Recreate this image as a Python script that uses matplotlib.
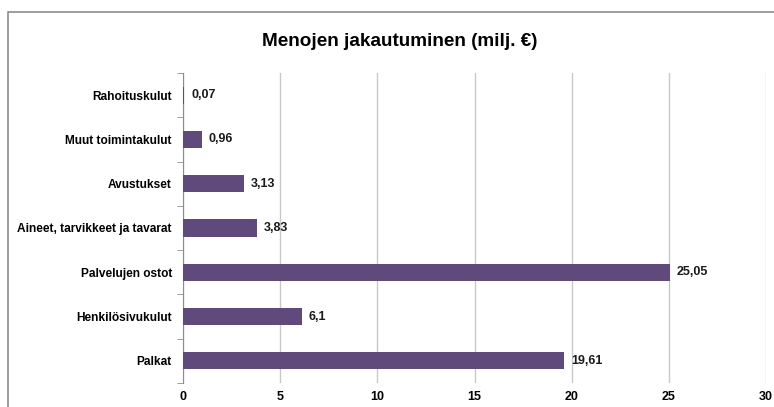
import matplotlib.pyplot as plt
from matplotlib.patches import Rectangle

categories = ['Palkat', 'Henkilösivukulut', 'Palvelujen ostot',
              'Aineet, tarvikkeet ja tavarat', 'Avustukset',
              'Muut toimintakulut', 'Rahoituskulut']
values = [19.61, 6.1, 25.05, 3.83, 3.13, 0.96, 0.07]
labels = ['19,61', '6,1', '25,05', '3,83', '3,13', '0,96', '0,07']
xticks = [0, 5, 10, 15, 20, 25, 30]

plt.rcParams['font.family'] = ['Liberation Sans', 'DejaVu Sans']

fig = plt.figure(figsize=(7.74, 4.07), dpi=100)
W, H = 774, 407

# outer chart frame
fig.patches.append(Rectangle((8 / W, -0.05), 1.2, 1 - 12 / H + 0.05,
                             transform=fig.transFigure, fill=False,
                             edgecolor='#8c8c8c', linewidth=1.2))

ax = fig.add_axes([183 / W, 1 - 383 / H, (766 - 183) / W, (383 - 73) / H])
y = range(len(categories))
ax.barh(y, values, height=0.39, color='#604A7B', zorder=3)
for i, (v, lab) in enumerate(zip(values, labels)):
    ax.text(v + 0.35, i, lab, va='center', ha='left', fontsize=9,
            fontweight='bold', color='#1a1a1a')

ax.set_xlim(0, 30)
ax.set_ylim(-0.5, len(categories) - 0.5)
ax.set_xticks(xticks)
ax.set_xticklabels([str(t) for t in xticks], fontsize=9, fontweight='bold')
ax.set_yticks(list(y))
ax.set_yticklabels(categories, fontsize=8.6, fontweight='bold')
ax.set_yticks([i - 0.5 for i in range(len(categories) + 1)], minor=True)
ax.tick_params(axis='y', which='major', length=0, pad=8)
ax.tick_params(axis='y', which='minor', length=4, color='#8c8c8c')
ax.tick_params(axis='x', length=0, pad=6)
ax.grid(axis='x', color='#c8c8c8', linewidth=1, zorder=0)
for s in ['top', 'right', 'bottom']:
    ax.spines[s].set_visible(False)
ax.spines['left'].set_color('#8c8c8c')

fig.text(400 / W, 1 - 42 / H, 'Menojen jakautuminen (milj. €)', ha='center',
         va='center', fontsize=13.6, fontweight='bold')

fig.savefig('out.png', dpi=100)
